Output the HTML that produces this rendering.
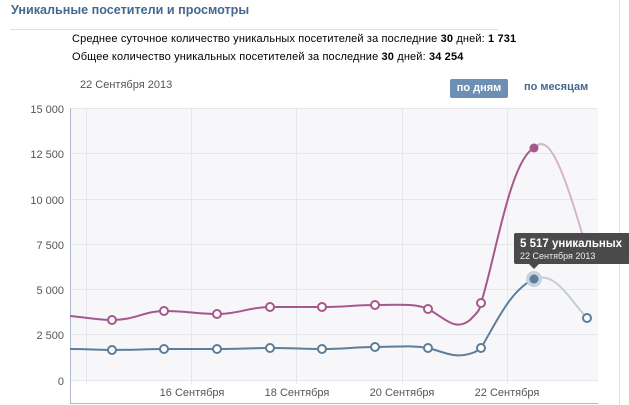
<!DOCTYPE html>
<html><head><meta charset="utf-8"><style>
body{margin:0;width:629px;height:405px;background:#fff;font-family:"Liberation Sans",Tahoma,sans-serif;position:relative;overflow:hidden}
.t{position:absolute;white-space:nowrap}
</style></head><body>
<div class="t" style="left:11px;top:3px;font-size:12.6px;font-weight:bold;color:#45688e">Уникальные посетители и просмотры</div>
<div style="position:absolute;left:10px;top:29px;width:488px;height:1px;background:#dae1e8"></div>
<div style="position:absolute;left:619px;top:0;width:1px;height:405px;background:#dae1e8"></div>
<div class="t" style="left:72px;top:33px;font-size:11px;color:#000;letter-spacing:0.14px">Среднее суточное количество уникальных посетителей за последние <b>30</b> дней: <b>1 731</b></div>
<div class="t" style="left:72px;top:51px;font-size:11px;color:#000;letter-spacing:0.14px">Общее количество уникальных посетителей за последние <b>30</b> дней: <b>34 254</b></div>
<div class="t" style="left:80px;top:79px;font-size:11px;color:#555">22 Сентября 2013</div>
<div class="t" style="left:450px;top:79px;width:58px;height:19px;background:#6d8fb3;color:#fff;font-size:11px;font-weight:bold;text-align:center;line-height:19px;border-radius:2px">по дням</div>
<div class="t" style="left:524px;top:81px;font-size:11px;font-weight:bold;color:#45688e">по месяцам</div>
<svg width="629" height="405" style="position:absolute;left:0;top:0" font-family="Liberation Sans, sans-serif">
<rect x="71" y="108" width="527" height="272" fill="#f7f7f9"/>
<g stroke="#e4e7ec" stroke-width="1">
<line x1="71" x2="598" y1="108.5" y2="108.5"/><line x1="71" x2="598" y1="153.5" y2="153.5"/><line x1="71" x2="598" y1="199.5" y2="199.5"/><line x1="71" x2="598" y1="244.5" y2="244.5"/><line x1="71" x2="598" y1="289.5" y2="289.5"/><line x1="71" x2="598" y1="334.5" y2="334.5"/><line x1="71" x2="598" y1="380.5" y2="380.5"/>
<line x1="86.5" x2="86.5" y1="108" y2="384"/><line x1="191.5" x2="191.5" y1="108" y2="384"/><line x1="296.5" x2="296.5" y1="108" y2="384"/><line x1="402.5" x2="402.5" y1="108" y2="384"/><line x1="507.5" x2="507.5" y1="108" y2="384"/>
</g>
<line x1="70.5" x2="70.5" y1="108" y2="404" stroke="#b0bac6"/>
<line x1="70" x2="598" y1="403.5" y2="403.5" stroke="#b0bac6"/>
<g font-size="11" fill="#555" text-anchor="end">
<text x="64" y="113">15 000</text><text x="64" y="158">12 500</text><text x="64" y="204">10 000</text><text x="64" y="249">7 500</text><text x="64" y="294">5 000</text><text x="64" y="339">2 500</text><text x="64" y="385">0</text>
</g>
<g font-size="11" fill="#555" text-anchor="middle">
<text x="192" y="396">16 Сентября</text><text x="297" y="396">18 Сентября</text><text x="402" y="396">20 Сентября</text><text x="507" y="396">22 Сентября</text>
</g>
<path d="M70,316 C90,318 100,320 112,320 C135,320 145,311 164,311 C185,311 200,314 217,314 C238,314 250,307 270,307 C290,307 305,307 322,307 C345,307 355,305 375,305 C395,305 415,303 428,309 C445,318 455,332 470,320 C478,312 480,310 481,303 C495,260 510,160 534,148" fill="none" stroke="#a5588c" stroke-width="2"/>
<path d="M534,148 C550,130 565,175 587,250" fill="none" stroke="#d7b5c9" stroke-width="2"/>
<path d="M70,349 C90,349 100,350 112,350 C135,350 145,349 164,349 C185,349 200,349 217,349 C240,349 250,348 270,348 C290,348 305,349 322,349 C345,349 355,347 375,347 C395,347 410,345 428,348 C445,352 455,360 475,352 C478,350 480,349 481,348 C495,325 510,290 534,279" fill="none" stroke="#5e7d99" stroke-width="2"/>
<path d="M534,279 C555,270 570,300 587,318" fill="none" stroke="#c3ccd7" stroke-width="2"/>
<g fill="#fff" stroke="#a5588c" stroke-width="2">
<circle cx="112" cy="320" r="4"/><circle cx="164" cy="311" r="4"/><circle cx="217" cy="314" r="4"/><circle cx="270" cy="307" r="4"/><circle cx="322" cy="307" r="4"/><circle cx="375" cy="305" r="4"/><circle cx="428" cy="309" r="4"/><circle cx="481" cy="303" r="4"/>
</g>
<circle cx="534" cy="148" r="4.5" fill="#a5588c"/>
<g fill="#fff" stroke="#5e7d99" stroke-width="2">
<circle cx="112" cy="350" r="4"/><circle cx="164" cy="349" r="4"/><circle cx="217" cy="349" r="4"/><circle cx="270" cy="348" r="4"/><circle cx="322" cy="349" r="4"/><circle cx="375" cy="347" r="4"/><circle cx="428" cy="348" r="4"/><circle cx="481" cy="348" r="4"/><circle cx="587" cy="318" r="4"/>
</g>
<circle cx="534" cy="279" r="8" fill="#c6d2e0"/>
<circle cx="534" cy="279" r="4.5" fill="#5e7d99"/>
<rect x="514" y="233" width="116" height="31" fill="#4a4a4a" rx="2"/>
<path d="M529,264 L534,269 L539,264 Z" fill="#4a4a4a"/>
<text x="520" y="247" font-size="11.5" font-weight="bold" fill="#fff">5 517 уникальных</text>
<text x="520" y="259" font-size="9" fill="#eee">22 Сентября 2013</text>
</svg>
</body></html>
